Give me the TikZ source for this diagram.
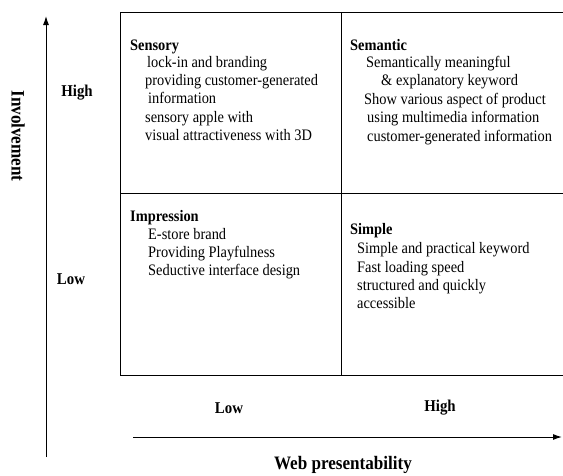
\documentclass[tikz,border=0pt]{standalone}
\usepackage{fontspec}
\setmainfont{Liberation Serif}[FakeStretch=0.9]
\usetikzlibrary{arrows.meta}

\begin{document}
\begin{tikzpicture}[x=1pt,y=-1pt,
    item/.style={anchor=base west,inner sep=0pt,font=\fontsize{16}{19}\selectfont},
    head/.style={item,font=\fontsize{16}{19}\selectfont\bfseries},
    level/.style={inner sep=0pt,font=\fontsize{16.5}{19}\selectfont\bfseries},
    axislabel/.style={inner sep=0pt,font=\fontsize{19}{22}\selectfont\bfseries},
    axis/.style={line width=1pt,-{Latex[length=9pt,width=6pt]}}]
  \useasboundingbox (0,0) rectangle (563,475);

  % quadrant grid
  \draw[line width=0.9pt] (563,12) -- (120,12) -- (120,375) -- (563,375);
  \draw[line width=0.9pt] (341,12) -- (341,375);
  \draw[line width=0.9pt] (120,193) -- (563,193);

  % axes
  \coordinate (ybot) at (46,457);
  \coordinate (ytop) at (46,16);
  \coordinate (xleft) at (133,437);
  \coordinate (xright) at (562,437);
  \draw[axis] (ybot) -- (ytop);
  \draw[axis] (xleft) -- (xright);
  \node[axislabel,rotate=-90] (ylab) at (18,136) {Involvement};
  \node[level] (yhigh) at (77,93) {High};
  \node[level] (ylow) at (71,279) {Low};
  \node[level] (xlow) at (229,408) {Low};
  \node[level] (xhigh) at (440,408) {High};
  \node[axislabel] (xlab) at (343,465) {Web presentability};

  % upper left
  \node[head] (sensory) at (130,50) {Sensory};
  \node[item] (sens1) at (147,67) {lock-in and branding};
  \node[item] (sens2) at (145,85) {providing customer-generated};
  \node[item] (sens3) at (148,103) {information};
  \node[item] (sens4) at (145,122) {sensory apple with};
  \node[item] (sens5) at (145,140) {visual attractiveness with 3D};

  % upper right
  \node[head] (semantic) at (350,50) {Semantic};
  \node[item] (sem1) at (366,67) {Semantically meaningful};
  \node[item] (sem2) at (381,85) {\& explanatory keyword};
  \node[item] (sem3) at (364,104) {Show various aspect of product};
  \node[item] (sem4) at (367,122) {using multimedia information};
  \node[item] (sem5) at (367,141) {customer-generated information};

  % lower left
  \node[head] (impression) at (130,221) {Impression};
  \node[item] (imp1) at (148,239) {E-store brand};
  \node[item] (imp2) at (148,257) {Providing Playfulness};
  \node[item] (imp3) at (148,275) {Seductive interface design};

  % lower right
  \node[head] (simple) at (350,234) {Simple};
  \node[item] (sim1) at (357,253) {Simple and practical keyword};
  \node[item] (sim2) at (357,272) {Fast loading speed};
  \node[item] (sim3) at (357,290) {structured and quickly};
  \node[item] (sim4) at (357,308) {accessible};
\end{tikzpicture}
\end{document}
